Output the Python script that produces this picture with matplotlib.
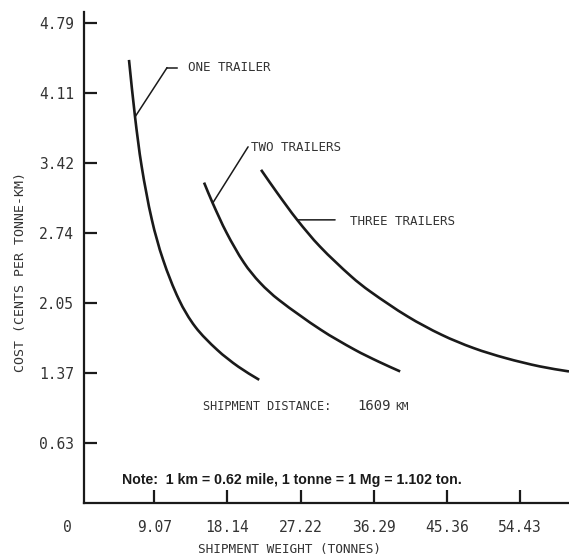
import numpy as np
import matplotlib
matplotlib.use("Agg")
import matplotlib.pyplot as plt
from matplotlib.path import Path
from matplotlib.patches import PathPatch

# Cost per tonne-km versus shipment weight, shipment distance 1609 km
one_x = [5.93, 6.68, 7.51, 8.77, 10.16, 12.14, 14.15, 16.86, 19.50, 22.08]
one_y = [4.436, 3.878, 3.389, 2.870, 2.479, 2.087, 1.823, 1.598, 1.432, 1.304]

two_x = [15.24, 16.31, 18.04, 20.20, 22.19, 24.51, 29.72, 33.94, 36.91, 39.56]
two_y = [3.235, 3.034, 2.743, 2.449, 2.254, 2.087, 1.794, 1.598, 1.481, 1.386]

three_x = [22.31, 24.33, 26.79, 29.61, 33.51, 35.84, 40.49, 44.70, 48.66, 52.63, 56.90, 60.50]
three_y = [3.360, 3.132, 2.870, 2.609, 2.315, 2.169, 1.924, 1.745, 1.615, 1.517, 1.435, 1.386]

# Axis ticks (weights in tonnes; costs in cents per tonne-km)
x_ticks = [9.07, 18.14, 27.22, 36.29, 45.36, 54.43]
x_tick_labels = ["9.07", "18.14", "27.22", "36.29", "45.36", "54.43"]
y_tick_labels = ["0.63", "1.37", "2.05", "2.74", "3.42", "4.11", "4.79"]
y_step = 0.685  # one cent per ton-mile expressed in cents per tonne-km
y_ticks = [y_step * (i + 1) for i in range(len(y_tick_labels))]

mono = "DejaVu Sans Mono"
ink = "#1a1a1a"
txt = "#333333"


def smooth_curve(ax, xs, ys, **kw):
    """Smooth curve through the points: chord-length Hermite spline as Beziers,
    built in display space so the spacing follows what is seen on screen."""
    p = ax.transData.transform(np.column_stack([xs, ys]).astype(float))
    seg = np.hypot(*np.diff(p, axis=0).T)
    t = np.concatenate([[0.0], np.cumsum(seg)])
    n = len(p)
    m = np.zeros_like(p)
    for i in range(n):
        a, b = max(i - 1, 0), min(i + 1, n - 1)
        m[i] = (p[b] - p[a]) / (t[b] - t[a])
    verts = [tuple(p[0])]
    codes = [Path.MOVETO]
    for i in range(n - 1):
        dt = t[i + 1] - t[i]
        verts += [tuple(p[i] + m[i] * dt / 3.0),
                  tuple(p[i + 1] - m[i + 1] * dt / 3.0),
                  tuple(p[i + 1])]
        codes += [Path.CURVE4] * 3
    patch = PathPatch(Path(verts, codes), fill=False, transform=None, **kw)
    patch.set_clip_path(ax.patch)
    ax.add_artist(patch)


fig = plt.figure(figsize=(5.69, 5.57), dpi=100)
ax = fig.add_axes([84 / 569, 54 / 557, 1 - 84 / 569, (503 - 12) / 557])

ax.set_xlim(0.35, 60.5)
ax.set_ylim(0.098, 4.905)

for xs, ys in ((one_x, one_y), (two_x, two_y), (three_x, three_y)):
    smooth_curve(ax, xs, ys, edgecolor=ink, lw=1.9, capstyle="butt")

for side in ("top", "right"):
    ax.spines[side].set_visible(False)
for side in ("left", "bottom"):
    ax.spines[side].set_linewidth(1.6)
    ax.spines[side].set_color(ink)

ax.set_xticks(x_ticks)
ax.set_xticklabels(x_tick_labels)
ax.set_yticks(y_ticks)
ax.set_yticklabels(y_tick_labels)
ax.tick_params(axis="x", direction="in", length=9.5, width=1.6, color=ink,
               pad=12, labelsize=10.5, labelcolor=txt)
ax.tick_params(axis="y", direction="in", length=9.5, width=1.6, color=ink,
               pad=7, labelsize=10.5, labelcolor=txt)
for lab in ax.get_xticklabels() + ax.get_yticklabels():
    lab.set_family(mono)

fig.text(67 / 569, 1 - 528 / 557, "0", ha="center", va="center",
         family=mono, fontsize=10.5, color=txt)

fig.text(290 / 569, 1 - 549 / 557, "SHIPMENT WEIGHT (TONNES)", family=mono,
         fontsize=9.2, color=txt, ha="center", va="center")
ax.set_ylabel("COST (CENTS PER TONNE-KM)", family=mono, fontsize=9.5,
              color=txt)
ax.yaxis.set_label_coords(-0.118, 0.47)

# Curve labels with leader lines
leader = dict(arrowstyle="-", color=ink, lw=1.1, shrinkA=0, shrinkB=0)
ax.annotate("", xy=(one_x[1], one_y[1]), xytext=(10.65, 4.36), arrowprops=leader)
ax.plot([10.65, 11.89], [4.36, 4.36], color=ink, lw=1.1)
ax.text(13.25, 4.36, "ONE TRAILER", family=mono, fontsize=9, color=txt,
        va="center", ha="left")

ax.annotate("", xy=(two_x[1], two_y[1]), xytext=(20.70, 3.585), arrowprops=leader)
ax.text(21.1, 3.575, "TWO TRAILERS", family=mono, fontsize=9, color=txt,
        va="center", ha="left")

ax.annotate("", xy=(three_x[2], three_y[2]), xytext=(31.49, three_y[2]),
            arrowprops=leader)
ax.text(33.35, 2.85, "THREE TRAILERS", family=mono, fontsize=9, color=txt,
        va="center", ha="left")

ax.text(15.11, 1.04, "SHIPMENT DISTANCE:", family=mono, fontsize=8.6,
        color=txt, va="center", ha="left")
ax.text(34.2, 1.045, "1609", family=mono, fontsize=10, color=txt,
        va="center", ha="left")
ax.text(38.9, 1.035, "KM", family=mono, fontsize=8, color=txt,
        va="center", ha="left")

ax.text(5.08, 0.326, "Note:  1 km = 0.62 mile, 1 tonne = 1 Mg = 1.102 ton.",
        family="Liberation Sans", fontweight="bold", fontsize=10.2, color=ink,
        va="center", ha="left")

fig.savefig("out.png", dpi=100, facecolor="white")
